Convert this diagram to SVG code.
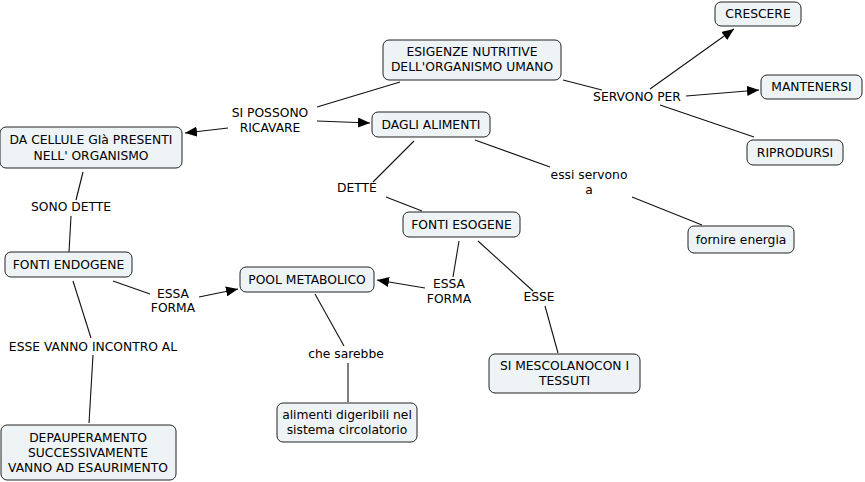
<svg xmlns="http://www.w3.org/2000/svg" width="865" height="482" viewBox="0 0 865 482">
<style>
.n rect{fill:#eef3f6;stroke:#222;stroke-width:1}
text{font-family:"DejaVu Sans",Verdana,sans-serif;font-size:12.3px;fill:#000;text-anchor:middle}
.c line{stroke:#111;stroke-width:1.1}
</style>
<defs>
<marker id="a" markerWidth="12" markerHeight="10" refX="12" refY="5" orient="auto" markerUnits="userSpaceOnUse">
<path d="M0,0 L12,5 L0,10 Z" fill="#000"/>
</marker>
</defs>
<rect width="865" height="482" fill="#fff"/>
<g class="c">
<line x1="400" y1="82" x2="317" y2="107"/>
<line x1="228" y1="128" x2="185" y2="133" marker-end="url(#a)"/>
<line x1="317" y1="121" x2="370" y2="123" marker-end="url(#a)"/>
<line x1="563" y1="80" x2="602" y2="90"/>
<line x1="650" y1="89" x2="734" y2="29" marker-end="url(#a)"/>
<line x1="686" y1="96" x2="759" y2="90" marker-end="url(#a)"/>
<line x1="660" y1="105" x2="754" y2="137"/>
<line x1="414" y1="141" x2="373" y2="182"/>
<line x1="386" y1="197" x2="422" y2="211"/>
<line x1="475" y1="140" x2="550" y2="167"/>
<line x1="632" y1="197" x2="702" y2="225"/>
<line x1="83" y1="172" x2="76" y2="200"/>
<line x1="71" y1="216" x2="69" y2="252"/>
<line x1="113" y1="281" x2="150" y2="294"/>
<line x1="199" y1="297" x2="238" y2="289" marker-end="url(#a)"/>
<line x1="73" y1="281" x2="91" y2="338"/>
<line x1="93" y1="355" x2="89" y2="423"/>
<line x1="315" y1="294" x2="344" y2="346"/>
<line x1="348" y1="363" x2="348" y2="402"/>
<line x1="459" y1="241" x2="453" y2="277"/>
<line x1="425" y1="288" x2="377" y2="280" marker-end="url(#a)"/>
<line x1="478" y1="241" x2="533" y2="291"/>
<line x1="545" y1="306" x2="558" y2="353"/>
</g>
<g id="crescere" class="n"><rect x="715" y="2" width="86" height="24" rx="6"/><text x="758" y="18">CRESCERE</text></g>
<g id="esigenze" class="n"><rect x="383" y="40" width="178" height="40" rx="6"/><text x="472" y="56">ESIGENZE NUTRITIVE</text><text x="472" y="71">DELL'ORGANISMO UMANO</text></g>
<g id="mantenersi" class="n"><rect x="761" y="75" width="101" height="24" rx="6"/><text x="811.5" y="91">MANTENERSI</text></g>
<g id="dagli" class="n"><rect x="372" y="112" width="118" height="25" rx="6"/><text x="431" y="129">DAGLI ALIMENTI</text></g>
<g id="riprodursi" class="n"><rect x="747" y="140" width="96" height="25" rx="6"/><text x="795" y="157">RIPRODURSI</text></g>
<g id="dacellule" class="n"><rect x="0" y="127" width="182" height="41" rx="6"/><text x="91" y="144">DA CELLULE GIà PRESENTI</text><text x="91" y="160">NELL' ORGANISMO</text></g>
<g id="fornire" class="n"><rect x="688" y="226" width="106" height="27" rx="6"/><text x="741" y="244">fornire energia</text></g>
<g id="esogene" class="n"><rect x="403" y="212" width="117" height="25" rx="6"/><text x="461.5" y="229">FONTI ESOGENE</text></g>
<g id="endogene" class="n"><rect x="5" y="252" width="127" height="25" rx="6"/><text x="68.5" y="269">FONTI ENDOGENE</text></g>
<g id="pool" class="n"><rect x="240" y="267" width="134" height="25" rx="6"/><text x="307" y="284">POOL METABOLICO</text></g>
<g id="mescolano" class="n"><rect x="489" y="354" width="151" height="39" rx="6"/><text x="564.5" y="370">SI MESCOLANOCON I</text><text x="564.5" y="385">TESSUTI</text></g>
<g id="alimenti" class="n"><rect x="277" y="403" width="140" height="39" rx="6"/><text x="347" y="419">alimenti digeribili nel</text><text x="347" y="434">sistema circolatorio</text></g>
<g id="depauperamento" class="n"><rect x="1" y="425" width="175" height="55" rx="6"/><text x="88" y="442">DEPAUPERAMENTO</text><text x="88" y="457">SUCCESSIVAMENTE</text><text x="88" y="472">VANNO AD ESAURIMENTO</text></g>
<g id="labels">
<text x="270" y="117">SI POSSONO</text><text x="270" y="132">RICAVARE</text>
<text x="637" y="101">SERVONO PER</text>
<text x="357" y="192">DETTE</text>
<text x="71" y="211">SONO DETTE</text>
<text x="589" y="179">essi servono</text><text x="589" y="194">a</text>
<text x="173" y="298">ESSA</text><text x="173" y="312">FORMA</text>
<text x="449" y="288">ESSA</text><text x="449" y="303">FORMA</text>
<text x="539" y="301">ESSE</text>
<text x="93" y="351">ESSE VANNO INCONTRO AL</text>
<text x="346" y="358">che sarebbe</text>
</g>
</svg>
